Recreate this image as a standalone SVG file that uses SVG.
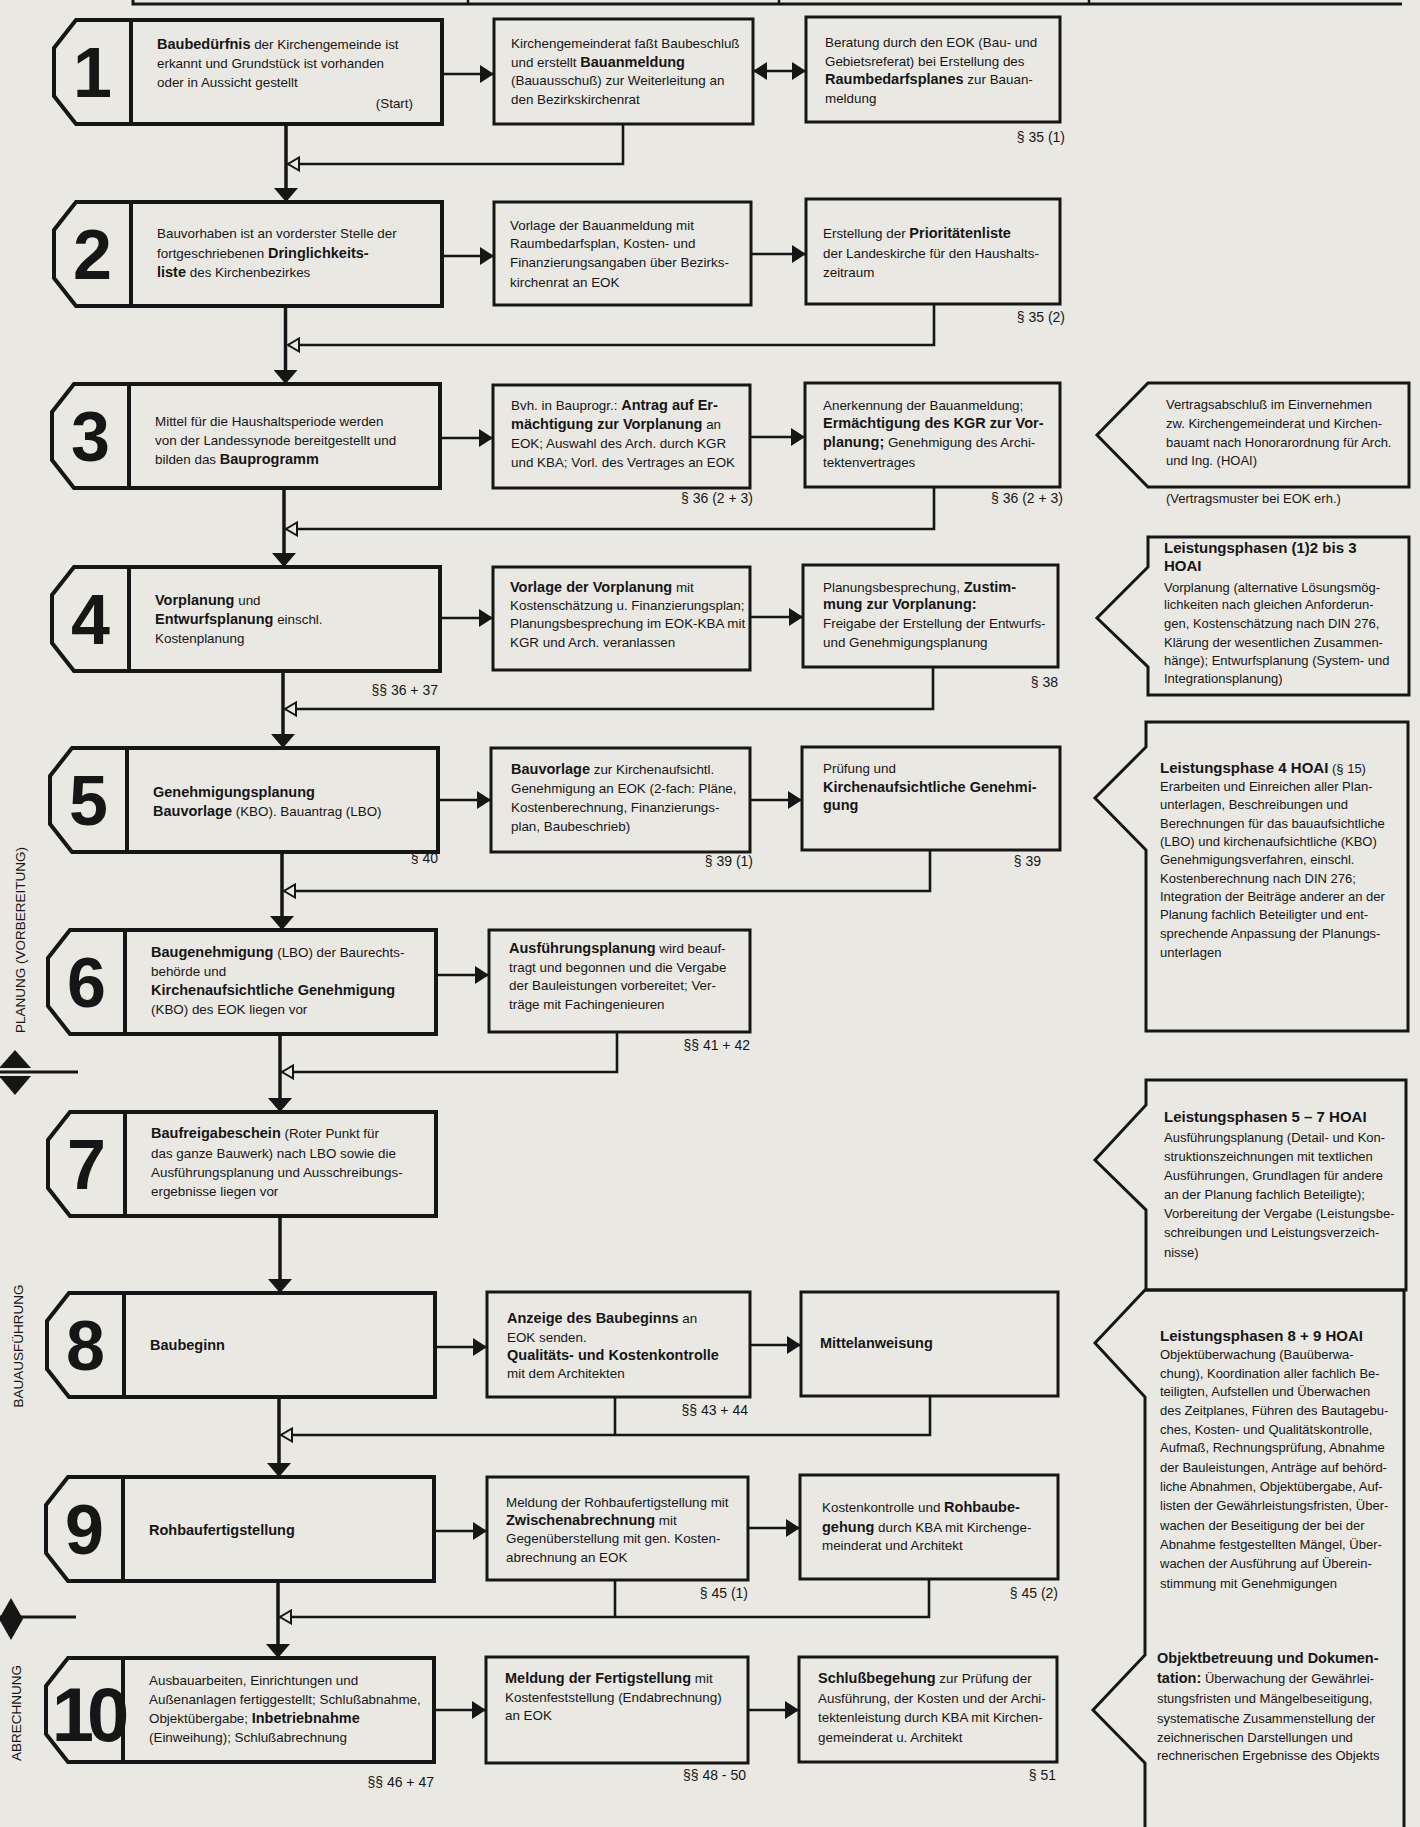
<svg xmlns="http://www.w3.org/2000/svg" width="1420" height="1827" viewBox="0 0 1420 1827">
<defs>
<style>
.bg{fill:#e9e8e3}
.main{fill:none;stroke:#161616;stroke-width:4}
.box{fill:none;stroke:#161616;stroke-width:3}
.hoai{fill:none;stroke:#161616;stroke-width:3}
.c{fill:none;stroke:#161616;stroke-width:2.6}
.trunk{fill:none;stroke:#161616;stroke-width:3.5}
text{font-family:"Liberation Sans",Arial,sans-serif;fill:#161616}
.t{font-size:13.4px}
.s{font-size:13px}
.b{font-weight:bold;font-size:14.5px}
.h{font-weight:bold;font-size:15px}
.par{font-size:14px;text-anchor:end}
.num{font-size:70px;font-weight:bold;text-anchor:middle}
.side{font-size:13.5px;text-anchor:middle}
</style>
<marker id="ah" markerUnits="userSpaceOnUse" viewBox="0 0 14 18" markerWidth="14" markerHeight="18" refX="14" refY="9" orient="auto-start-reverse"><path d="M0,0L14,9L0,18Z" fill="#161616"/></marker>
<marker id="down" markerUnits="userSpaceOnUse" viewBox="0 0 14 24" markerWidth="14" markerHeight="24" refX="14" refY="12" orient="auto"><path d="M0,0L14,12L0,24Z" fill="#161616"/></marker>
<marker id="open" markerUnits="userSpaceOnUse" viewBox="-2 -2 15 17" markerWidth="15" markerHeight="17" refX="11" refY="6.5" orient="auto"><path d="M0,0L11,6.5L0,13Z" fill="#e9e8e3" stroke="#161616" stroke-width="2"/></marker>
</defs>
<rect class="bg" x="0" y="0" width="1420" height="1827"/>

<g id="header">
<path d="M133,-2V4H1402" fill="none" stroke="#161616" stroke-width="3"/>
<path d="M468,-2V4M779,-2V4M1089,-2V4" fill="none" stroke="#161616" stroke-width="2.5"/>
</g>

<g id="phase-labels">
<text class="side" transform="translate(25,940) rotate(-90)">PLANUNG (VORBEREITUNG)</text>
<text class="side" transform="translate(23,1346) rotate(-90)">BAUAUSFÜHRUNG</text>
<text class="side" transform="translate(21,1713) rotate(-90)">ABRECHNUNG</text>
<path d="M15,1050L31,1068H-1Z" fill="#161616"/>
<path d="M-1,1076H31L15,1095Z" fill="#161616"/>
<path d="M0,1072H78" stroke="#161616" stroke-width="3"/>
<path d="M11,1598L23,1619L11,1640L-1,1619Z" fill="#161616"/>
<path d="M0,1617H76" stroke="#161616" stroke-width="3"/>
</g>

<g id="connectors">
<path class="trunk" marker-end="url(#down)" d="M286,124V202"/>
<path class="trunk" marker-end="url(#down)" d="M285.5,306V384"/>
<path class="trunk" marker-end="url(#down)" d="M284,488V567"/>
<path class="trunk" marker-end="url(#down)" d="M283,671V748"/>
<path class="trunk" marker-end="url(#down)" d="M282,852V930"/>
<path class="trunk" marker-end="url(#down)" d="M280,1034V1112"/>
<path class="trunk" marker-end="url(#down)" d="M280,1216V1293"/>
<path class="trunk" marker-end="url(#down)" d="M279,1397V1477"/>
<path class="trunk" marker-end="url(#down)" d="M278,1581V1658"/>

<path class="c" marker-end="url(#ah)" d="M442,74H494"/>
<path class="c" marker-end="url(#ah)" d="M442,256H494"/>
<path class="c" marker-end="url(#ah)" d="M441,438H493"/>
<path class="c" marker-end="url(#ah)" d="M440,618H493"/>
<path class="c" marker-end="url(#ah)" d="M438,800H491"/>
<path class="c" marker-end="url(#ah)" d="M436,975H489"/>
<path class="c" marker-end="url(#ah)" d="M435,1347H487"/>
<path class="c" marker-end="url(#ah)" d="M435,1531H487"/>
<path class="c" marker-end="url(#ah)" d="M434,1710H486"/>

<path class="c" marker-start="url(#ah)" marker-end="url(#ah)" d="M753,71H806"/>
<path class="c" marker-end="url(#ah)" d="M751,254H806"/>
<path class="c" marker-end="url(#ah)" d="M750,437H805"/>
<path class="c" marker-end="url(#ah)" d="M750,617H803"/>
<path class="c" marker-end="url(#ah)" d="M750,800H802"/>
<path class="c" marker-end="url(#ah)" d="M750,1345H801"/>
<path class="c" marker-end="url(#ah)" d="M748,1528H800"/>
<path class="c" marker-end="url(#ah)" d="M748,1710H799"/>

<path class="c" marker-end="url(#open)" d="M623,124V164H288"/>
<path class="c" marker-end="url(#open)" d="M934,304V345H288"/>
<path class="c" marker-end="url(#open)" d="M934,487V529H286"/>
<path class="c" marker-end="url(#open)" d="M933,667V709H285"/>
<path class="c" marker-end="url(#open)" d="M930,850V891H284"/>
<path class="c" marker-end="url(#open)" d="M617,1032V1072H282"/>
<path class="c" marker-end="url(#open)" d="M930,1396V1435H281"/>
<path class="c" d="M615,1397V1435"/>
<path class="c" marker-end="url(#open)" d="M929,1579V1617H280"/>
<path class="c" d="M615,1580V1617"/>
</g>

<g id="step1" transform="translate(54,20)">
<path class="main" d="M22,0H388V104H22L0,76V28Z"/><path class="main" d="M77,0V104"/>
<text class="num" x="38.5" y="77">1</text>
<text class="t" x="103" y="29"><tspan class="b">Baubedürfnis</tspan> der Kirchengemeinde ist</text>
<text class="t" x="103" y="48">erkannt und Grundstück ist vorhanden</text>
<text class="t" x="103" y="67">oder in Aussicht gestellt</text>
<text class="t" x="359" y="88" text-anchor="end">(Start)</text>
</g>
<g id="step1b">
<rect class="box" x="494" y="19" width="259" height="105"/>
<text class="t" x="511" y="48">Kirchengemeinderat faßt Baubeschluß</text>
<text class="t" x="511" y="67">und erstellt <tspan class="b">Bauanmeldung</tspan></text>
<text class="t" x="511" y="85">(Bauausschuß) zur Weiterleitung an</text>
<text class="t" x="511" y="104">den Bezirkskirchenrat</text>
</g>
<g id="step1c">
<rect class="box" x="806" y="17" width="254" height="105"/>
<text class="t" x="825" y="47">Beratung durch den EOK (Bau- und</text>
<text class="t" x="825" y="66">Gebietsreferat) bei Erstellung des</text>
<text class="t" x="825" y="84"><tspan class="b">Raumbedarfsplanes</tspan> zur Bauan-</text>
<text class="t" x="825" y="103">meldung</text>
<text class="par" x="1065" y="142">§ 35 (1)</text>
</g>

<g id="step2" transform="translate(54,202)">
<path class="main" d="M22,0H388V104H22L0,76V28Z"/><path class="main" d="M77,0V104"/>
<text class="num" x="38.5" y="77">2</text>
<text class="t" x="103" y="36">Bauvorhaben ist an vorderster Stelle der</text>
<text class="t" x="103" y="56">fortgeschriebenen <tspan class="b">Dringlichkeits-</tspan></text>
<text class="t" x="103" y="75"><tspan class="b">liste</tspan> des Kirchenbezirkes</text>
</g>
<g id="step2b">
<rect class="box" x="494" y="202" width="257" height="103"/>
<text class="t" x="510" y="230">Vorlage der Bauanmeldung mit</text>
<text class="t" x="510" y="248">Raumbedarfsplan, Kosten- und</text>
<text class="t" x="510" y="267">Finanzierungsangaben über Bezirks-</text>
<text class="t" x="510" y="287">kirchenrat an EOK</text>
</g>
<g id="step2c">
<rect class="box" x="806" y="199" width="254" height="105"/>
<text class="t" x="823" y="238">Erstellung der <tspan class="b">Prioritätenliste</tspan></text>
<text class="t" x="823" y="258">der Landeskirche für den Haushalts-</text>
<text class="t" x="823" y="277">zeitraum</text>
<text class="par" x="1065" y="322">§ 35 (2)</text>
</g>

<g id="step3" transform="translate(52,384)">
<path class="main" d="M22,0H388V104H22L0,76V28Z"/><path class="main" d="M77,0V104"/>
<text class="num" x="38.5" y="77">3</text>
<text class="t" x="103" y="42">Mittel für die Haushaltsperiode werden</text>
<text class="t" x="103" y="61">von der Landessynode bereitgestellt und</text>
<text class="t" x="103" y="80">bilden das <tspan class="b">Bauprogramm</tspan></text>
</g>
<g id="step3b">
<rect class="box" x="493" y="385" width="257" height="103"/>
<text class="t" x="511" y="410">Bvh. in Bauprogr.: <tspan class="b">Antrag auf Er-</tspan></text>
<text class="t" x="511" y="429"><tspan class="b">mächtigung zur Vorplanung</tspan> an</text>
<text class="t" x="511" y="448">EOK; Auswahl des Arch. durch KGR</text>
<text class="t" x="511" y="467">und KBA; Vorl. des Vertrages an EOK</text>
<text class="par" x="753" y="503">§ 36 (2 + 3)</text>
</g>
<g id="step3c">
<rect class="box" x="805" y="383" width="255" height="104"/>
<text class="t" x="823" y="410">Anerkennung der Bauanmeldung;</text>
<text class="t" x="823" y="428"><tspan class="b">Ermächtigung des KGR zur Vor-</tspan></text>
<text class="t" x="823" y="447"><tspan class="b">planung;</tspan> Genehmigung des Archi-</text>
<text class="t" x="823" y="467">tektenvertrages</text>
<text class="par" x="1063" y="503">§ 36 (2 + 3)</text>
</g>

<g id="step4" transform="translate(52,567)">
<path class="main" d="M22,0H388V104H22L0,76V28Z"/><path class="main" d="M77,0V104"/>
<text class="num" x="38.5" y="77">4</text>
<text class="t" x="103" y="38"><tspan class="b">Vorplanung</tspan> und</text>
<text class="t" x="103" y="57"><tspan class="b">Entwurfsplanung</tspan> einschl.</text>
<text class="t" x="103" y="76">Kostenplanung</text>
<text class="par" x="386" y="128">§§ 36 + 37</text>
</g>
<g id="step4b">
<rect class="box" x="493" y="567" width="257" height="103"/>
<text class="t" x="510" y="592"><tspan class="b">Vorlage der Vorplanung</tspan> mit</text>
<text class="t" x="510" y="610">Kostenschätzung u. Finanzierungsplan;</text>
<text class="t" x="510" y="628">Planungsbesprechung im EOK-KBA mit</text>
<text class="t" x="510" y="647">KGR und Arch. veranlassen</text>
</g>
<g id="step4c">
<rect class="box" x="803" y="565" width="255" height="102"/>
<text class="t" x="823" y="592">Planungsbesprechung, <tspan class="b">Zustim-</tspan></text>
<text class="t" x="823" y="609"><tspan class="b">mung zur Vorplanung:</tspan></text>
<text class="t" x="823" y="628">Freigabe der Erstellung der Entwurfs-</text>
<text class="t" x="823" y="647">und Genehmigungsplanung</text>
<text class="par" x="1058" y="687">§ 38</text>
</g>

<g id="step5" transform="translate(50,748)">
<path class="main" d="M22,0H388V104H22L0,76V28Z"/><path class="main" d="M77,0V104"/>
<text class="num" x="38.5" y="77">5</text>
<text class="t" x="103" y="49"><tspan class="b">Genehmigungsplanung</tspan></text>
<text class="t" x="103" y="68"><tspan class="b">Bauvorlage</tspan> (KBO). Bauantrag (LBO)</text>
<text class="par" x="388" y="115">§ 40</text>
</g>
<g id="step5b">
<rect class="box" x="491" y="748" width="259" height="104"/>
<text class="t" x="511" y="774"><tspan class="b">Bauvorlage</tspan> zur Kirchenaufsichtl.</text>
<text class="t" x="511" y="793">Genehmigung an EOK (2-fach: Pläne,</text>
<text class="t" x="511" y="812">Kostenberechnung, Finanzierungs-</text>
<text class="t" x="511" y="831">plan, Baubeschrieb)</text>
<text class="par" x="753" y="866">§ 39 (1)</text>
</g>
<g id="step5c">
<rect class="box" x="802" y="747" width="258" height="103"/>
<text class="t" x="823" y="773">Prüfung und</text>
<text class="t" x="823" y="792"><tspan class="b">Kirchenaufsichtliche Genehmi-</tspan></text>
<text class="t" x="823" y="810"><tspan class="b">gung</tspan></text>
<text class="par" x="1041" y="866">§ 39</text>
</g>

<g id="step6" transform="translate(48,930)">
<path class="main" d="M22,0H388V104H22L0,76V28Z"/><path class="main" d="M77,0V104"/>
<text class="num" x="38.5" y="77">6</text>
<text class="t" x="103" y="27"><tspan class="b">Baugenehmigung</tspan> (LBO) der Baurechts-</text>
<text class="t" x="103" y="46">behörde und</text>
<text class="t" x="103" y="65"><tspan class="b">Kirchenaufsichtliche Genehmigung</tspan></text>
<text class="t" x="103" y="84">(KBO) des EOK liegen vor</text>
</g>
<g id="step6b">
<rect class="box" x="489" y="930" width="261" height="102"/>
<text class="t" x="509" y="953"><tspan class="b">Ausführungsplanung</tspan> wird beauf-</text>
<text class="t" x="509" y="972">tragt und begonnen und die Vergabe</text>
<text class="t" x="509" y="990">der Bauleistungen vorbereitet; Ver-</text>
<text class="t" x="509" y="1009">träge mit Fachingenieuren</text>
<text class="par" x="750" y="1050">§§ 41 + 42</text>
</g>

<g id="step7" transform="translate(48,1112)">
<path class="main" d="M22,0H388V104H22L0,76V28Z"/><path class="main" d="M77,0V104"/>
<text class="num" x="38.5" y="77">7</text>
<text class="t" x="103" y="26"><tspan class="b">Baufreigabeschein</tspan> (Roter Punkt für</text>
<text class="t" x="103" y="46">das ganze Bauwerk) nach LBO sowie die</text>
<text class="t" x="103" y="65">Ausführungsplanung und Ausschreibungs-</text>
<text class="t" x="103" y="84">ergebnisse liegen vor</text>
</g>

<g id="step8" transform="translate(47,1293)">
<path class="main" d="M22,0H388V104H22L0,76V28Z"/><path class="main" d="M77,0V104"/>
<text class="num" x="38.5" y="77">8</text>
<text class="t" x="103" y="57"><tspan class="b">Baubeginn</tspan></text>
</g>
<g id="step8b">
<rect class="box" x="487" y="1292" width="263" height="105"/>
<text class="t" x="507" y="1323"><tspan class="b">Anzeige des Baubeginns</tspan> an</text>
<text class="t" x="507" y="1342">EOK senden.</text>
<text class="t" x="507" y="1360"><tspan class="b">Qualitäts- und Kostenkontrolle</tspan></text>
<text class="t" x="507" y="1378">mit dem Architekten</text>
<text class="par" x="748" y="1415">§§ 43 + 44</text>
</g>
<g id="step8c">
<rect class="box" x="801" y="1292" width="257" height="104"/>
<text class="t" x="820" y="1348"><tspan class="b">Mittelanweisung</tspan></text>
</g>

<g id="step9" transform="translate(46,1477)">
<path class="main" d="M22,0H388V104H22L0,76V28Z"/><path class="main" d="M77,0V104"/>
<text class="num" x="38.5" y="77">9</text>
<text class="t" x="103" y="58"><tspan class="b">Rohbaufertigstellung</tspan></text>
</g>
<g id="step9b">
<rect class="box" x="487" y="1477" width="261" height="103"/>
<text class="t" x="506" y="1507">Meldung der Rohbaufertigstellung mit</text>
<text class="t" x="506" y="1525"><tspan class="b">Zwischenabrechnung</tspan> mit</text>
<text class="t" x="506" y="1543">Gegenüberstellung mit gen. Kosten-</text>
<text class="t" x="506" y="1562">abrechnung an EOK</text>
<text class="par" x="748" y="1598">§ 45 (1)</text>
</g>
<g id="step9c">
<rect class="box" x="800" y="1475" width="258" height="104"/>
<text class="t" x="822" y="1512">Kostenkontrolle und <tspan class="b">Rohbaube-</tspan></text>
<text class="t" x="822" y="1532"><tspan class="b">gehung</tspan> durch KBA mit Kirchenge-</text>
<text class="t" x="822" y="1550">meinderat und Architekt</text>
<text class="par" x="1058" y="1598">§ 45 (2)</text>
</g>

<g id="step10" transform="translate(46,1658)">
<path class="main" d="M22,0H388V104H22L0,76V28Z"/><path class="main" d="M77,0V104"/>
<text class="num" x="41" y="83" style="font-size:76px;letter-spacing:-7px">10</text>
<text class="t" x="103" y="27">Ausbauarbeiten, Einrichtungen und</text>
<text class="t" x="103" y="46">Außenanlagen fertiggestellt; Schlußabnahme,</text>
<text class="t" x="103" y="65">Objektübergabe; <tspan class="b">Inbetriebnahme</tspan></text>
<text class="t" x="103" y="84">(Einweihung); Schlußabrechnung</text>
<text class="par" x="388" y="129">§§ 46 + 47</text>
</g>
<g id="step10b">
<rect class="box" x="486" y="1657" width="262" height="106"/>
<text class="t" x="505" y="1683"><tspan class="b">Meldung der Fertigstellung</tspan> mit</text>
<text class="t" x="505" y="1702">Kostenfeststellung (Endabrechnung)</text>
<text class="t" x="505" y="1720">an EOK</text>
<text class="par" x="746" y="1780">§§ 48 - 50</text>
</g>
<g id="step10c">
<rect class="box" x="799" y="1657" width="258" height="105"/>
<text class="t" x="818" y="1683"><tspan class="b">Schlußbegehung</tspan> zur Prüfung der</text>
<text class="t" x="818" y="1703">Ausführung, der Kosten und der Archi-</text>
<text class="t" x="818" y="1722">tektenleistung durch KBA mit Kirchen-</text>
<text class="t" x="818" y="1742">gemeinderat u. Architekt</text>
<text class="par" x="1056" y="1780">§ 51</text>
</g>

<g id="hoai-vertrag">
<path class="hoai" d="M1148,383H1409V487H1148L1097,435Z"/>
<text class="s" x="1166" y="409">Vertragsabschluß im Einvernehmen</text>
<text class="s" x="1166" y="428">zw. Kirchengemeinderat und Kirchen-</text>
<text class="s" x="1166" y="447">bauamt nach Honorarordnung für Arch.</text>
<text class="s" x="1166" y="465">und Ing. (HOAI)</text>
<text class="s" x="1166" y="503">(Vertragsmuster bei EOK erh.)</text>
</g>
<g id="hoai-1-3">
<path class="hoai" d="M1148,537H1409V695H1148V667L1097,618L1148,567Z"/>
<text class="h" x="1164" y="553">Leistungsphasen (1)2 bis 3</text>
<text class="h" x="1164" y="571">HOAI</text>
<text class="s" x="1164" y="592">Vorplanung (alternative Lösungsmög-</text>
<text class="s" x="1164" y="609">lichkeiten nach gleichen Anforderun-</text>
<text class="s" x="1164" y="628">gen, Kostenschätzung nach DIN 276,</text>
<text class="s" x="1164" y="647">Klärung der wesentlichen Zusammen-</text>
<text class="s" x="1164" y="665">hänge); Entwurfsplanung (System- und</text>
<text class="s" x="1164" y="683">Integrationsplanung)</text>
</g>
<g id="hoai-4">
<path class="hoai" d="M1146,722H1408V1031H1146V850L1095,798L1146,747Z"/>
<text class="s" x="1160" y="773"><tspan class="h">Leistungsphase 4 HOAI</tspan> (§ 15)</text>
<text class="s" x="1160" y="791">Erarbeiten und Einreichen aller Plan-</text>
<text class="s" x="1160" y="809">unterlagen, Beschreibungen und</text>
<text class="s" x="1160" y="828">Berechnungen für das bauaufsichtliche</text>
<text class="s" x="1160" y="846">(LBO) und kirchenaufsichtliche (KBO)</text>
<text class="s" x="1160" y="864">Genehmigungsverfahren, einschl.</text>
<text class="s" x="1160" y="883">Kostenberechnung nach DIN 276;</text>
<text class="s" x="1160" y="901">Integration der Beiträge anderer an der</text>
<text class="s" x="1160" y="919">Planung fachlich Beteiligter und ent-</text>
<text class="s" x="1160" y="938">sprechende Anpassung der Planungs-</text>
<text class="s" x="1160" y="957">unterlagen</text>
</g>
<g id="hoai-5-7">
<path class="hoai" d="M1146,1080H1406V1290H1146V1210L1095,1160L1146,1105Z"/>
<text class="h" x="1164" y="1122">Leistungsphasen 5 – 7 HOAI</text>
<text class="s" x="1164" y="1142">Ausführungsplanung (Detail- und Kon-</text>
<text class="s" x="1164" y="1161">struktionszeichnungen mit textlichen</text>
<text class="s" x="1164" y="1180">Ausführungen, Grundlagen für andere</text>
<text class="s" x="1164" y="1199">an der Planung fachlich Beteiligte);</text>
<text class="s" x="1164" y="1218">Vorbereitung der Vergabe (Leistungsbe-</text>
<text class="s" x="1164" y="1237">schreibungen und Leistungsverzeich-</text>
<text class="s" x="1164" y="1257">nisse)</text>
</g>
<g id="hoai-8-9">
<path class="hoai" d="M1145,1830V1763L1093,1710L1145,1655V1397L1095,1343L1145,1290H1404V1830"/>
<text class="h" x="1160" y="1341">Leistungsphasen 8 +  9 HOAI</text>
<text class="s" x="1160" y="1359">Objektüberwachung (Bauüberwa-</text>
<text class="s" x="1160" y="1378">chung),  Koordination aller fachlich Be-</text>
<text class="s" x="1160" y="1396">teiligten, Aufstellen und Überwachen</text>
<text class="s" x="1160" y="1415">des Zeitplanes, Führen des Bautagebu-</text>
<text class="s" x="1160" y="1434">ches, Kosten- und Qualitätskontrolle,</text>
<text class="s" x="1160" y="1452">Aufmaß, Rechnungsprüfung, Abnahme</text>
<text class="s" x="1160" y="1472">der Bauleistungen, Anträge auf behörd-</text>
<text class="s" x="1160" y="1491">liche Abnahmen, Objektübergabe, Auf-</text>
<text class="s" x="1160" y="1510">listen der Gewährleistungsfristen, Über-</text>
<text class="s" x="1160" y="1530">wachen der Beseitigung der bei der</text>
<text class="s" x="1160" y="1549">Abnahme festgestellten Mängel, Über-</text>
<text class="s" x="1160" y="1568">wachen der Ausführung auf Überein-</text>
<text class="s" x="1160" y="1588">stimmung mit Genehmigungen</text>
</g>
<g id="hoai-objekt">
<text class="s" x="1157" y="1663"><tspan class="b">Objektbetreuung und Dokumen-</tspan></text>
<text class="s" x="1157" y="1683"><tspan class="b">tation:</tspan> Überwachung der Gewährlei-</text>
<text class="s" x="1157" y="1703">stungsfristen und Mängelbeseitigung,</text>
<text class="s" x="1157" y="1723">systematische Zusammenstellung der</text>
<text class="s" x="1157" y="1742">zeichnerischen Darstellungen und</text>
<text class="s" x="1157" y="1760">rechnerischen Ergebnisse des Objekts</text>
</g>
</svg>
